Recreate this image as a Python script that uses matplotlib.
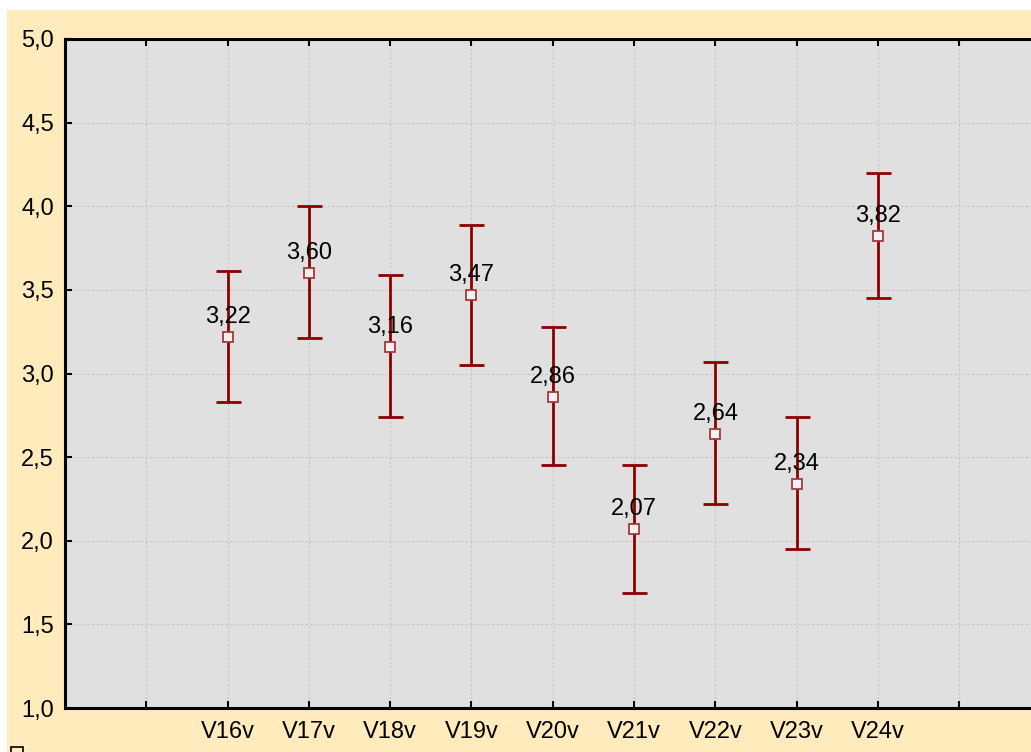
import matplotlib
matplotlib.use("Agg")
import matplotlib.pyplot as plt
from matplotlib.patches import Rectangle

categories = ["V16v", "V17v", "V18v", "V19v", "V20v", "V21v", "V22v", "V23v", "V24v"]
means = [3.22, 3.60, 3.16, 3.47, 2.86, 2.07, 2.64, 2.34, 3.82]
upper = [3.61, 4.00, 3.59, 3.89, 3.28, 2.45, 3.07, 2.74, 4.20]
lower = [2.83, 3.21, 2.74, 3.05, 2.45, 1.69, 2.22, 1.95, 3.45]
labels = ["3,22", "3,60", "3,16", "3,47", "2,86", "2,07", "2,64", "2,34", "3,82"]
ytick_vals = [1.0, 1.5, 2.0, 2.5, 3.0, 3.5, 4.0, 4.5, 5.0]
ytick_labels = ["1,0", "1,5", "2,0", "2,5", "3,0", "3,5", "4,0", "4,5", "5,0"]

plt.rcParams['font.family'] = ['Liberation Sans', 'DejaVu Sans']

W, H = 1031, 752
fig = plt.figure(figsize=(W / 100, H / 100), dpi=100, facecolor="white")
# yellow panel background
fig.patches.append(Rectangle((7 / W, 0), 1, 1 - 10 / H, transform=fig.transFigure,
                             facecolor="#FFEBBC", edgecolor="none", zorder=-2))
# partial legend-like square at bottom left
fig.patches.append(Rectangle((11 / W, -6 / H), 12 / W, 11 / H, transform=fig.transFigure,
                             facecolor="none", edgecolor="black", linewidth=1.2, zorder=-1))

px_per_unit = 81.3
left_px, top_px, bottom_px = 65, 39, 708
ax = fig.add_axes([left_px / W, (H - bottom_px) / H, 12 * px_per_unit / W, (bottom_px - top_px) / H])
ax.set_zorder(2)
ax.set_facecolor("#E0E0E0")
ax.set_xlim(0, 12)
ax.set_ylim(1.0, 5.0)

x = list(range(2, 2 + len(categories)))
yerr = [[m - l for m, l in zip(means, lower)], [u - m for m, u in zip(means, upper)]]
ax.errorbar(x, means, yerr=yerr, fmt="none", ecolor="#8B0000", elinewidth=2,
            capsize=9, capthick=2, zorder=3)
ax.plot(x, means, linestyle="none", marker="s", markersize=7, markerfacecolor="#F2F2F2",
        markeredgecolor="#A83838", markeredgewidth=1.3, zorder=4)
for xi, m, lab in zip(x, means, labels):
    ax.annotate(lab, (xi, m), xytext=(0, 14.5), textcoords="offset points",
                ha="center", va="center", fontsize=17, color="black", zorder=5)

ax.set_xticks(range(1, 12))
ax.set_xticklabels([""] + categories + [""], fontsize=17)
ax.set_yticks(ytick_vals)
ax.set_yticklabels(ytick_labels, fontsize=17)
ax.tick_params(axis="x", direction="in", top=True, length=5, width=1.5, pad=9)
ax.tick_params(axis="y", direction="in", length=5, width=1.5, pad=8)
ax.grid(True, linestyle=(0, (2, 2)), color="#C4C4C4", linewidth=0.8)
ax.set_axisbelow(True)
for s in ["left", "bottom", "top"]:
    ax.spines[s].set_linewidth(2.2)
    ax.spines[s].set_color("black")
ax.spines["right"].set_visible(False)

fig.savefig("out.png", dpi=100, facecolor="white")
